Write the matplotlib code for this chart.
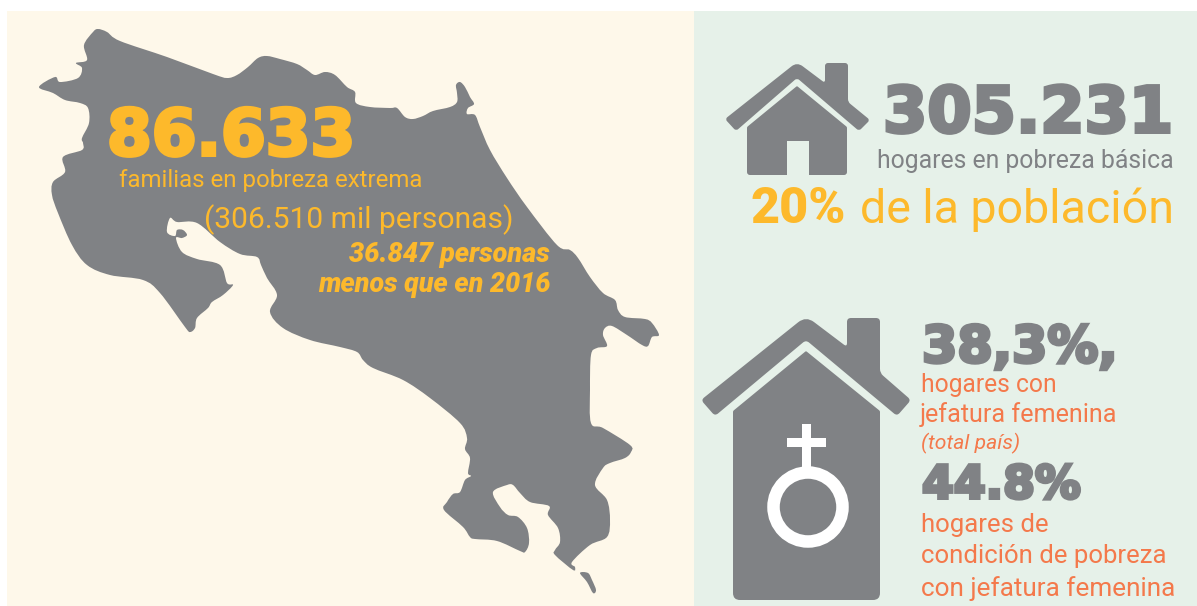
import numpy as np
import matplotlib
matplotlib.use('Agg')
import matplotlib.pyplot as plt
import matplotlib.patheffects as pe
from matplotlib.path import Path
from matplotlib.patches import PathPatch, Rectangle, Circle

GRAY = '#808285'
AMBER = '#FDB92B'
CORAL = '#F4794B'
CREAM = '#FEF8EA'
MINT = '#E6F1E9'

# map outline (pixels)
map_outline = [
    (98,29),(107,32),(120,41),(167,57),(213,74),(227,78),(237,75),(248,67),(258,58),(267,56),
    (280,59),(297,64),(307,70),(315,75),(325,72),(335,75),(347,87),(355,92),(356,103),(370,107),
    (390,108),(397,108),(405,117),(413,119),(423,116),(433,111),(450,107),(457,102),(457,93),
    (456,85),(460,82),(465,87),(470,97),(474,104),(468,108),(467,114),(475,115),(480,127),
    (490,150),(507,178),(527,207),(557,245),(570,250),(578,258),(590,277),(603,293),(615,300),
    (618,310),(625,317),(645,319),(652,323),(659,335),(652,337),(648,346),(642,345),(627,335),
    (612,326),(605,328),(603,335),(607,346),(597,348),(591,355),(590,390),(591,423),(603,428),
    (630,445),(631,452),(625,458),(610,463),(603,468),(595,485),(607,500),(610,520),(607,537),
    (590,545),(572,562),(575,567),(573,570),(555,555),(555,550),(560,542),(558,528),(548,515),
    (549,506),(530,502),(520,493),(513,485),(507,485),(493,492),(500,507),(508,515),(518,517),
    (527,528),(529,543),(525,552),(520,551),(497,541),(475,539),(470,537),(463,527),(444,510),
    (447,502),(453,494),(460,492),(465,480),(471,476),(468,473),(470,458),(465,449),(467,438),
    (460,423),(430,398),(403,380),(373,368),(363,360),(357,352),(340,347),(310,340),(283,328),
    (270,312),(277,295),(267,278),(261,265),(257,257),(240,254),(220,242),(197,223),(177,222),
    (170,218),(167,232),(175,236),(177,230),(183,230),(187,235),(182,238),(176,238),(182,252),
    (197,259),(220,265),(227,283),(233,285),(223,295),(212,302),(208,308),(197,318),(195,328),
    (190,332),(185,327),(160,293),(143,280),(110,275),(87,265),(72,245),(58,213),(52,195),
    (53,182),(65,172),(63,157),(82,150),(83,143),(82,138),(89,123),(88,108),(80,103),(65,100),
    (53,93),(39,87),(55,77),(60,82),(78,78),(82,68),(76,63),(87,60),(84,45),(93,32),
]
islet_outline = [(580,573),(588,573),(592,580),(596,590),(593,593),(587,582)]

house1_roof = [(725,119),(797,62),(825,83),(825,63),(848,63),(848,102),(870,120),(859,131),(797,78),(736,131)]
house1_body = [(747,127),(797,86),(847,127),(847,175),(747,175)]
house1_door = (787, 141, 22, 34)
house2_roof = [(701,400),(806,316),(847,347),(847,318),(880,318),(880,373),(911,400),(897,416),(806,340),(715,416)]
house2_body = [(733,411),(806,351),(880,411),(880,600),(733,600)]

# text, left, right, baseline
big_numbers = [
    ('86.633', 107, 356, 157, AMBER),
    ('305.231', 883, 1174, 134, GRAY),
    ('38,3%,', 922, 1118, 364, GRAY),
    ('44.8%', 922, 1081, 500, GRAY),
]
plain_labels = [
    ('familias en pobreza extrema', 119, 422, 187, AMBER),
    ('(306.510 mil personas)', 204, 513, 228, AMBER),
    ('hogares en pobreza básica', 877, 1172, 168, GRAY),
    ('de la población', 860, 1173, 223, AMBER),
    ('hogares con', 921, 1056, 392, CORAL),
    ('jefatura femenina', 920, 1117, 422, CORAL),
    ('hogares de', 921, 1048, 532, CORAL),
    ('condición de pobreza', 921, 1166, 563, CORAL),
    ('con jefatura femenina', 921, 1175, 596, CORAL),
]
bold_italic_labels = [
    ('36.847 personas', 349, 549, 262, AMBER),
    ('menos que en 2016', 318, 550, 292, AMBER),
]

fig = plt.figure(figsize=(11.97, 6.06), dpi=100)
ax = fig.add_axes([0, 0, 1, 1])
ax.set_xlim(0, 1197)
ax.set_ylim(606, 0)
ax.axis('off')


def smooth_path(pts):
    # closed catmull-rom through the traced points
    p = np.array(pts, dtype=float)
    n = len(p)
    verts = [p[0]]
    codes = [Path.MOVETO]
    for i in range(n):
        p0, p1, p2, p3 = p[i-1], p[i], p[(i+1) % n], p[(i+2) % n]
        verts += [p1 + (p2-p0)/6, p2 - (p3-p1)/6, p2]
        codes += [Path.CURVE4]*3
    return Path(verts, codes)


def rounded_path(pts, r=3, big={}):
    # polygon with its corners cut by a small curve, big = {corner index: radius}
    p = np.array(pts, dtype=float)
    n = len(p)
    verts, codes = [], []
    for i in range(n):
        c = p[i]
        rr = big.get(i, r)
        a = c + (p[i-1]-c)/np.linalg.norm(p[i-1]-c)*rr
        b = c + (p[(i+1) % n]-c)/np.linalg.norm(p[(i+1) % n]-c)*rr
        verts += [a, c, b]
        codes += [Path.MOVETO if i == 0 else Path.LINETO, Path.CURVE3, Path.CURVE3]
    verts.append(verts[0])
    codes.append(Path.CLOSEPOLY)
    return Path(verts, codes)


def shape(path, color=GRAY):
    ax.add_patch(PathPatch(path, fc=color, ec='none'))


def fit_text(s, x0, x1, base, color, stroke=0, **kw):
    # stroke is in points, sharp corners so the heavy digits stay blocky
    t = ax.text(x0, base, s, color=color, fontsize=20, va='baseline', ha='left', **kw)
    w = t.get_window_extent(fig.canvas.get_renderer()).width
    t.set_fontsize(20*(x1-x0)/w)
    if stroke:
        t.set_y(base - stroke/2*100/72)
        t.set_path_effects([pe.withStroke(linewidth=stroke, foreground=color, joinstyle='miter')])
    return t


ax.add_patch(Rectangle((7, 11), 687, 595, fc=CREAM, ec='none'))
ax.add_patch(Rectangle((694, 11), 503, 595, fc=MINT, ec='none'))

shape(smooth_path(map_outline))
shape(smooth_path(islet_outline))

shape(rounded_path(house1_roof, big={1: 7}))
shape(rounded_path(house1_body, r=3, big={1: 1, 0: 1, 2: 1}))
ax.add_patch(Rectangle(house1_door[:2], house1_door[2], house1_door[3], fc=MINT, ec='none'))
shape(rounded_path(house2_roof, r=4, big={1: 10}))
shape(rounded_path(house2_body, r=7, big={1: 1, 0: 1, 2: 1}))

# female sign on the second house
ax.add_patch(Circle((808, 507), 34.5, fc='none', ec='white', lw=9))
ax.add_patch(Rectangle((802, 424), 9, 44, fc='white', ec='none'))
ax.add_patch(Rectangle((787, 438), 39, 9, fc='white', ec='none'))

for s, x0, x1, base, c in big_numbers:
    fit_text(s, x0, x1, base, c, stroke=2.5, family='DejaVu Sans', fontweight='bold')
for s, x0, x1, base, c in plain_labels:
    fit_text(s, x0, x1, base, c, family='Roboto')
for s, x0, x1, base, c in bold_italic_labels:
    fit_text(s, x0, x1, base, c, family='Roboto', fontweight=900, style='italic')
fit_text('20%', 750, 845, 223, AMBER, family='Roboto', fontweight=900)
fit_text('(total país)', 921, 1020, 449, CORAL, family='Roboto', style='italic')

fig.savefig('out.png', dpi=100, facecolor='white')
